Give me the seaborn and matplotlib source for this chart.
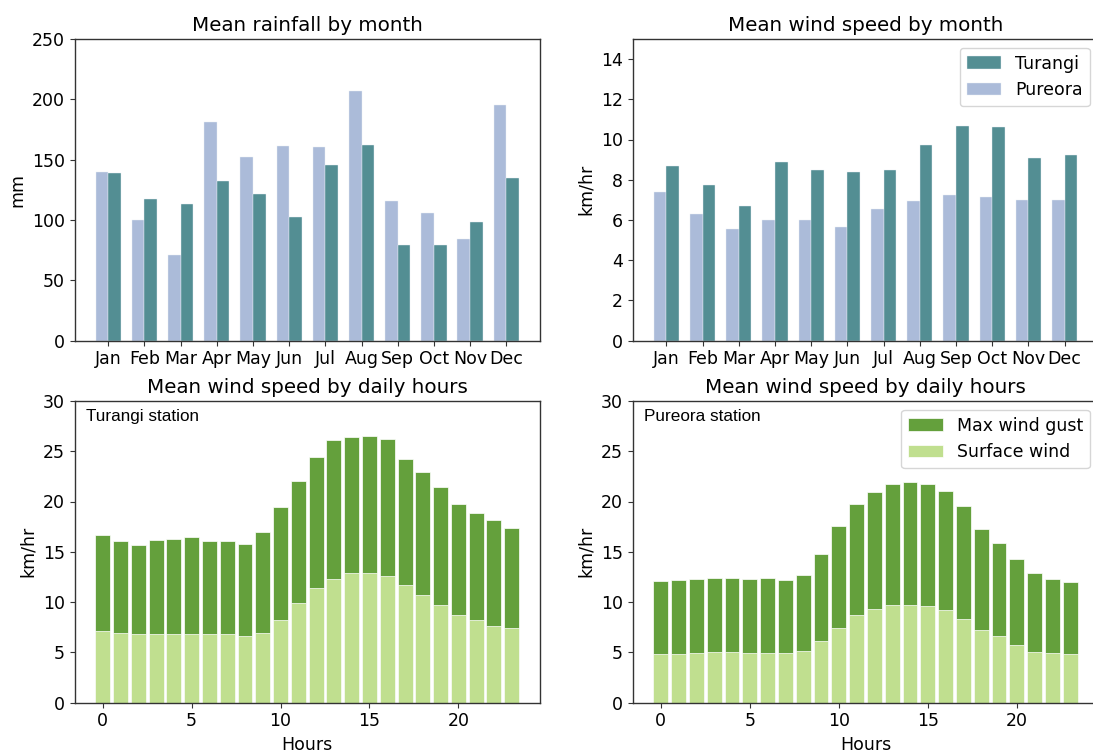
import numpy as np
import pandas as pd
import matplotlib
matplotlib.use("Agg")
import matplotlib.pyplot as plt
import seaborn as sns

months = ["Jan", "Feb", "Mar", "Apr", "May", "Jun", "Jul", "Aug", "Sep", "Oct", "Nov", "Dec"]
rain_pureora = [139.5, 100.0, 71.3, 181.2, 152.2, 161.0, 160.8, 206.9, 115.5, 106.1, 84.0, 195.6]
rain_turangi = [138.7, 117.1, 113.3, 132.3, 121.8, 102.2, 145.3, 162.2, 79.6, 79.3, 98.6, 135.1]
wind_pureora = [7.37, 6.28, 5.53, 6.00, 6.00, 5.63, 6.53, 6.94, 7.26, 7.16, 7.01, 6.97]
wind_turangi = [8.68, 7.74, 6.69, 8.90, 8.47, 8.38, 8.48, 9.74, 10.69, 10.64, 9.08, 9.21]

hours = list(range(24))
tur_gust = [16.67, 16.08, 15.68, 16.17, 16.27, 16.47, 16.11, 16.04, 15.78, 16.94, 19.46, 22.04,
            24.40, 26.12, 26.45, 26.52, 26.25, 24.26, 22.94, 21.45, 19.72, 18.89, 18.13, 17.40]
tur_surface = [7.09, 6.93, 6.79, 6.86, 6.79, 6.86, 6.86, 6.86, 6.66, 6.96, 8.19, 9.91,
               11.44, 12.33, 12.89, 12.86, 12.60, 11.67, 10.71, 9.71, 8.75, 8.19, 7.59, 7.39]
pur_gust = [12.10, 12.20, 12.33, 12.43, 12.43, 12.26, 12.40, 12.23, 12.66, 14.82, 17.57, 19.72,
            20.98, 21.74, 21.91, 21.78, 21.05, 19.52, 17.27, 15.84, 14.32, 12.89, 12.30, 11.97]
pur_surface = [4.84, 4.87, 4.94, 5.04, 5.04, 4.94, 4.91, 4.94, 5.10, 6.10, 7.42, 8.68,
               9.28, 9.68, 9.68, 9.61, 9.18, 8.32, 7.23, 6.63, 5.73, 5.07, 4.91, 4.81]

TEAL = "#538e93"
LIGHTBLUE = "#abbbd9"
DKGREEN = "#64a03c"
LTGREEN = "#c0df8f"
SPINE = "#333333"

plt.rcParams.update({
    "font.family": ["DejaVu Sans"],
    "font.size": 12.5,
    "axes.titlesize": 14.3,
    "axes.labelsize": 12.5,
    "xtick.labelsize": 12.5,
    "ytick.labelsize": 12.5,
    "legend.fontsize": 12.5,
    "axes.edgecolor": SPINE,
    "axes.linewidth": 1.0,
    "xtick.color": SPINE,
    "ytick.color": SPINE,
    "xtick.labelcolor": "black",
    "ytick.labelcolor": "black",
})

W, H = 1093, 753
fig = plt.figure(figsize=(W / 100, H / 100), dpi=100)


def add_ax(x0, y0, x1, y1):
    return fig.add_axes([x0 / W, 1 - y1 / H, (x1 - x0) / W, (y1 - y0) / H])


ax1 = add_ax(74.5, 39, 540, 340.5)
ax2 = add_ax(632.5, 39, 1098.5, 340.5)
ax3 = add_ax(74.5, 401, 540, 702.5)
ax4 = add_ax(632.5, 401, 1098.5, 702.5)

rain_df = pd.DataFrame({
    "month": months * 2,
    "value": rain_pureora + rain_turangi,
    "station": ["Pureora"] * 12 + ["Turangi"] * 12,
})
wind_df = pd.DataFrame({
    "month": months * 2,
    "value": wind_pureora + wind_turangi,
    "station": ["Pureora"] * 12 + ["Turangi"] * 12,
})
pal = {"Pureora": LIGHTBLUE, "Turangi": TEAL}

for ax, df in ((ax1, rain_df), (ax2, wind_df)):
    sns.barplot(data=df, x="month", y="value", hue="station", hue_order=["Pureora", "Turangi"],
                palette=pal, width=0.7, saturation=1, errorbar=None,
                edgecolor="#e8eef4", linewidth=0.3, ax=ax, legend=(ax is ax2))
    ax.set_xlim(-0.935, 11.935)
    ax.set_xlabel("")

ax1.set_ylim(0, 250)
ax1.set_yticks(np.arange(0, 251, 50))
ax1.set_ylabel("mm")
ax1.set_title("Mean rainfall by month")

ax2.set_ylim(0, 15)
ax2.set_yticks(np.arange(0, 15, 2))
ax2.set_ylabel("km/hr")
ax2.set_title("Mean wind speed by month")
h, l = ax2.get_legend_handles_labels()
ax2.legend(h[::-1], l[::-1], loc="upper right")

for ax, gust, surf, name, leg in ((ax3, tur_gust, tur_surface, "Turangi station", False),
                                  (ax4, pur_gust, pur_surface, "Pureora station", True)):
    sns.barplot(x=hours, y=gust, native_scale=True, color=DKGREEN, width=0.84, saturation=1,
                errorbar=None, edgecolor="white", linewidth=0.5, ax=ax, label="Max wind gust")
    sns.barplot(x=hours, y=surf, native_scale=True, color=LTGREEN, width=0.84, saturation=1,
                errorbar=None, edgecolor="white", linewidth=0.5, ax=ax, label="Surface wind")
    ax.set_xlim(-1.59, 24.59)
    ax.set_xticks([0, 5, 10, 15, 20])
    ax.set_ylim(0, 30)
    ax.set_yticks(np.arange(0, 31, 5))
    ax.set_xlabel("Hours")
    ax.set_ylabel("km/hr")
    ax.set_title("Mean wind speed by daily hours")
    ax.text(0.025, 0.975, name, transform=ax.transAxes, va="top", ha="left",
            fontsize=12.3, family=["Liberation Sans", "DejaVu Sans"])
    if leg:
        ax.legend(loc="upper right")
    else:
        lg = ax.get_legend()
        if lg is not None:
            lg.remove()

fig.savefig("out.png", dpi=100)
